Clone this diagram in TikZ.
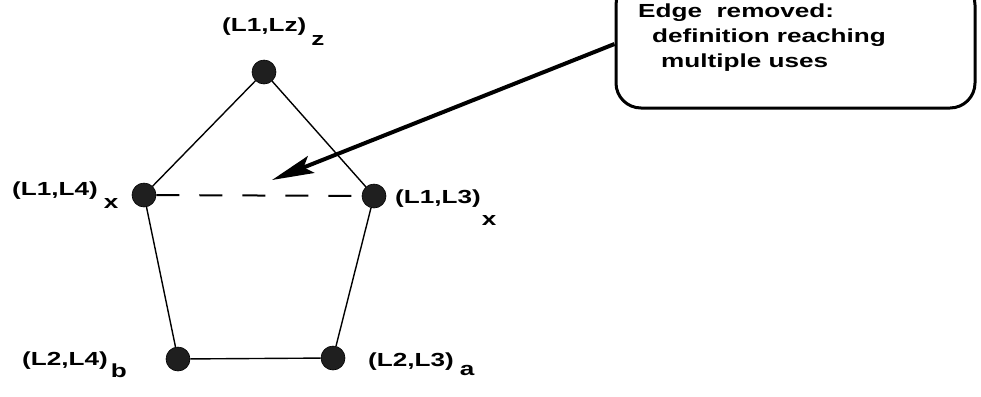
\documentclass[tikz,border=0pt]{standalone}
\usepackage{fontspec}
\setmainfont{Liberation Sans}[FakeStretch=1.38]
\usetikzlibrary{arrows.meta}
\begin{document}
\begin{tikzpicture}[x=1bp,y=-1bp,
  vertex/.style={circle,fill=black!88,draw=black,line width=0.6bp,minimum size=24bp,inner sep=0pt},
  edge/.style={line width=1.4bp,black},
  removed/.style={line width=2bp,black,dash pattern=on 23bp off 20bp},
  lbl/.style={anchor=base west,inner sep=0pt,font=\fontsize{19}{23}\selectfont\bfseries},
  notebox/.style={draw,line width=3bp,rounded corners=25bp,minimum width=359bp,minimum height=128bp,inner sep=0pt},
  pointer/.style={line width=4bp,-{Stealth[length=42bp,width=18bp,inset=8bp]}}
]
\useasboundingbox (0,0) rectangle (981,396);

% graph vertices
\node[vertex] (lz)  at (264,72)  {};
\node[vertex] (l14) at (144,195) {};
\node[vertex] (l13) at (374,196) {};
\node[vertex] (l24) at (178,359) {};
\node[vertex] (l23) at (333,358) {};

% graph edges
\draw[edge] (lz) -- (l14);
\draw[edge] (lz) -- (l13);
\draw[edge] (l14) -- (l24);
\draw[edge] (l13) -- (l23);
\draw[edge] (l24) -- (l23);
\draw[removed] (l14) -- (l13);

% vertex labels with their subscripts
\node[lbl] (tlz)  at (222,31)  {(L1,Lz)\hspace{5bp}\raisebox{-14bp}{z}};
\node[lbl] (tl14) at (12,195)  {(L1,L4)\hspace{6bp}\raisebox{-13bp}{x}};
\node[lbl] (tl13) at (395,203) {(L1,L3)\hspace{1bp}\raisebox{-22bp}{x}};
\node[lbl] (tl24) at (22,365)  {(L2,L4)\hspace{3bp}\raisebox{-12bp}{b}};
\node[lbl] (tl23) at (368,366) {(L2,L3)\hspace{6bp}\raisebox{-9bp}{a}};

% annotation box and its pointer
\node[notebox] (note) at (795.5,44) {};
\node[lbl] (n1) at (638,17) {Edge\ \ removed:};
\node[lbl] (n2) at (652,42) {definition reaching};
\node[lbl] (n3) at (661,67) {multiple uses};
\coordinate (gap) at (272,180);
\draw[pointer] (note.west) -- (gap);
\end{tikzpicture}
\end{document}
